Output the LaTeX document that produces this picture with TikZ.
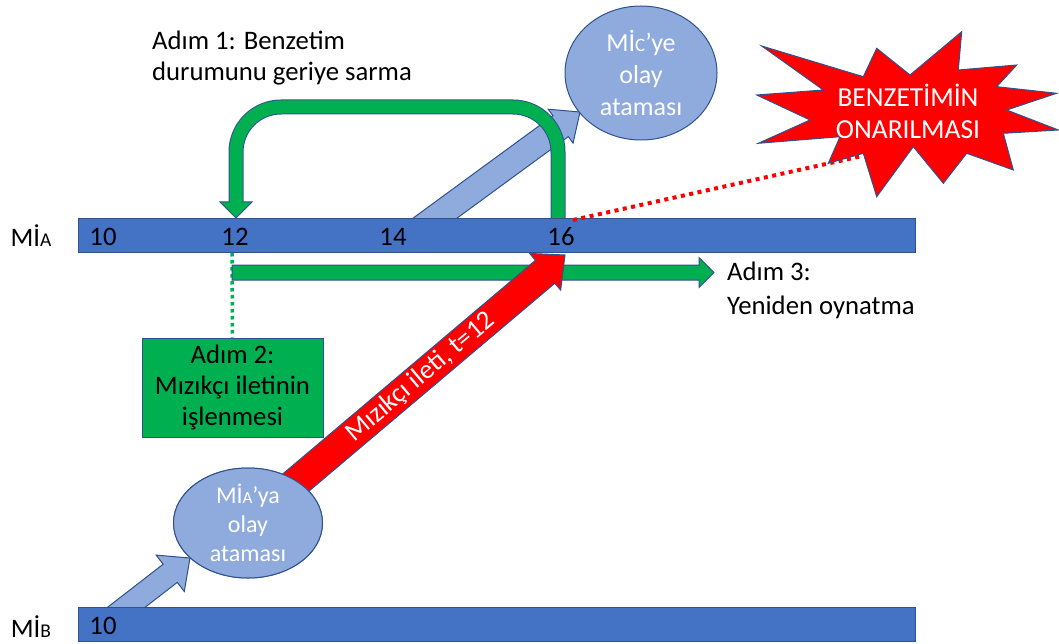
\documentclass[tikz,border=0pt]{standalone}
\usepackage{fontspec}
\setmainfont{Carlito}
\usetikzlibrary{calc,shapes.geometric}

\definecolor{barblue}{HTML}{4472C4}
\definecolor{edgeblue}{HTML}{2F528F}
\definecolor{lightblue}{HTML}{8FAADC}
\definecolor{stepgreen}{HTML}{00B050}
\definecolor{alarmred}{HTML}{FF0000}

% smaller capital letter used as an index after "Mİ"
\newcommand\lowcap[2]{{\fontsize{#1}{#1}\selectfont #2}}

% block arrow from #2 to #3: shaft half width #4, head half width #5, head length #6
\newcommand\fatarrow[6][]{%
  \coordinate (fa-base) at ($(#3)!#6!(#2)$);
  \draw[#1] ($(#2)!#4!90:(#3)$) -- ($(fa-base)!#4!-90:(#2)$)
    -- ($(fa-base)!#5!-90:(#2)$) -- (#3) -- ($(fa-base)!#5!90:(#2)$)
    -- ($(fa-base)!#4!90:(#2)$) -- ($(#2)!#4!-90:(#3)$) -- cycle;}

\tikzset{
  every node/.style={inner sep=0pt},
  txt/.style={font=\fontsize{26.7}{31}\selectfont, text=black},
  bar/.style={draw=edgeblue, fill=barblue, line width=1pt,
    minimum height=34pt, minimum width=837pt, anchor=north west},
  event/.style={ellipse, draw=edgeblue, fill=lightblue, line width=1pt,
    text=white, align=center},
  fatblue/.style={draw=edgeblue, fill=lightblue, line width=1pt},
  fatred/.style={draw=edgeblue, fill=alarmred, line width=1pt},
  fatgreen/.style={draw=edgeblue, fill=stepgreen, line width=1pt},
}

\begin{document}
\begin{tikzpicture}[x=1pt, y=-1pt]
\useasboundingbox (0,0) rectangle (1059,644);

% ---- event assignment towards MIc (under the timeline) ----
\coordinate (upstart) at (412,235);
\coordinate (uptip) at (580,112);
\fatarrow[fatblue]{upstart}{uptip}{13pt}{21pt}{24pt}

% ---- event assignment from MIB ----
\coordinate (lowstart) at (106,623);
\coordinate (lowtip) at (190,558);
\fatarrow[fatblue]{lowstart}{lowtip}{11.5pt}{23pt}{25pt}

% ---- timelines ----
\node[bar] (barA) at (78,218) {};
\node[bar] (barB) at (78,607) {};
\node[txt] (labA) at (31,236) {Mİ\lowcap{19.5}{A}};
\node[txt] (labB) at (31,627) {Mİ\lowcap{19.5}{B}};
\node[txt] (tA10) at (103,237) {10};
\node[txt] (tA12) at (235,237) {12};
\node[txt] (tA14) at (393,237) {14};
\node[txt] (tA16) at (561,237) {16};
\node[txt] (tB10) at (103,626) {10};

% ---- step 2 box and its link to t=12 ----
\node[txt, draw=edgeblue, fill=stepgreen, line width=1pt, align=center,
  minimum width=181pt, minimum height=99pt] (step2) at (232.5,387.5)
  {Adım 2:\\Mızıkçı iletinin\\işlenmesi};
\coordinate (t12low) at (232,253);
\draw[stepgreen, line width=3.5pt, dash pattern=on 3.5pt off 3.5pt] (t12low) -- (step2.north);

% ---- step 3: replay ----
\coordinate (replaystart) at (232,272.5);
\coordinate (replaytip) at (714,272.5);
\fatarrow[fatgreen]{replaystart}{replaytip}{7.5pt}{15pt}{15pt}
\node[txt, align=left, anchor=west, font=\fontsize{26.7}{34}\selectfont]
  (step3) at (727,290) {Adım 3:\\Yeniden oynatma};

% ---- straggler message ----
\node[event, minimum width=149pt, minimum height=110pt] (mia) at (248,523) {};
\coordinate (redtip) at (565,255);
\fatarrow[fatred]{mia.center}{redtip}{15pt}{24pt}{26pt}
\node[event, minimum width=149pt, minimum height=110pt,
  font=\fontsize{24}{29}\selectfont] (miaf) at (248,523)
  {Mİ\lowcap{17}{A}’ya\\olay\\ataması};
\node[font=\fontsize{27}{30}\selectfont, text=white, rotate=40.2]
  (msg) at ($(mia.center)!0.545!(redtip)$) {Mızıkçı ileti, t=12};

% ---- event node for MIc ----
\node[event, minimum width=152pt, minimum height=134pt,
  font=\fontsize{26}{32}\selectfont] (mic) at (641,73)
  {Mİ\lowcap{19}{C}’ye\\olay\\ataması};

% ---- step 1: roll back ----
\node[txt, align=left, anchor=west] (step1) at (152,58)
  {Adım 1: Benzetim\\durumunu geriye sarma};
\draw[edgeblue, line width=15pt, rounded corners=45pt]
  (558,218.5) -- (558,107) -- (236,107) -- (236,203);
\coordinate (backtip) at (236,218);
\draw[fatgreen, line join=miter] (220,202) -- (252,202) -- (backtip) -- cycle;
\draw[stepgreen, line width=13pt, rounded corners=45pt]
  (558,218) -- (558,107) -- (236,107) -- (236,204);

% ---- repair burst ----
\coordinate (dotstart) at (573,220);
\coordinate (dotend) at (862,156);
\draw[alarmred, line width=4pt, dash pattern=on 4pt off 4.5pt] (dotstart) -- (dotend);
\draw[draw=edgeblue, fill=alarmred, line width=1pt, line join=miter]
  (761.7,46) -- (863.3,76.7) -- (876.7,48.3) -- (910,75) -- (961.7,31.7)
  -- (958.3,70) -- (1016.7,65) -- (996.7,86.7) -- (1056.7,93.3)
  -- (1006.7,110) -- (1058.3,130) -- (1003.3,133.3) -- (1013.3,170)
  -- (966.7,153.3) -- (943.3,183.3) -- (913.3,146.7) -- (876.7,196.7)
  -- (863.3,153.3) -- (828.3,163.3) -- (840,136.7) -- (758.3,143.3)
  -- (810,120) -- (756.7,95) -- (823.3,90) -- cycle;
\node[font=\fontsize{27.5}{32}\selectfont, text=white, align=center]
  (burst) at (908,111) {BENZETİMİN\\ONARILMASI};
\end{tikzpicture}
\end{document}
